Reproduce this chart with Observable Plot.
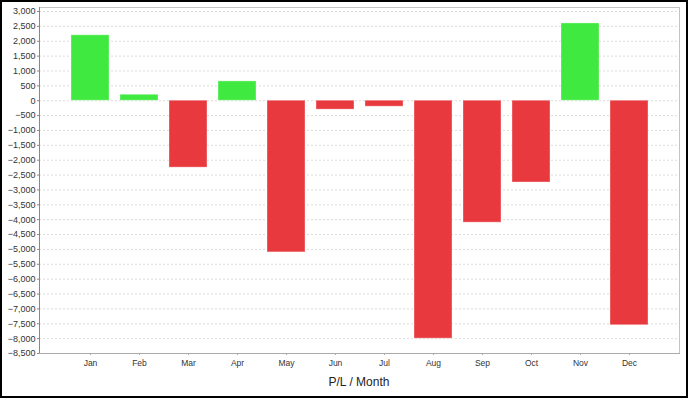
<!DOCTYPE html>
<html>
<head>
<meta charset="utf-8">
<script src="https://cdn.jsdelivr.net/npm/d3@7"></script>
<script src="https://cdn.jsdelivr.net/npm/@observablehq/plot@0.6"></script>
<style>
  html, body { margin: 0; padding: 0; background: white; }
  #wrap { position: relative; width: 688px; height: 398px; background: white; overflow: hidden; }
  #border { position: absolute; left: 0; top: 0; width: 688px; height: 398px; box-sizing: border-box; border: 2px solid #000; pointer-events: none; }
  #caption { position: absolute; left: 39px; top: 375px; width: 640px; text-align: center;
    font-family: "Liberation Sans", Arial, sans-serif; font-size: 12px; color: #222; }
</style>
</head>
<body>
<div id="wrap">
  <div id="chart"></div>
  <div id="caption">P/L / Month</div>
  <div id="border"></div>
</div>
<script>
const months = ["Jan", "Feb", "Mar", "Apr", "May", "Jun", "Jul", "Aug", "Sep", "Oct", "Nov", "Dec"];
const values = [2200, 200, -2250, 650, -5100, -300, -200, -8000, -4100, -2750, 2600, -7550];
const yTicks = d3.range(-8500, 3001, 500);
const posColor = "#3fe93f";
const negColor = "#e8393e";

const data = months.map((m, i) => ({month: m, value: values[i]}));

const chart = Plot.plot({
  width: 688,
  height: 368,
  marginLeft: 39,
  marginRight: 9,
  marginTop: 7,
  marginBottom: 15,
  style: {fontFamily: "'Liberation Sans', Arial, sans-serif", fontSize: "9px", color: "#333", background: "white"},
  x: {domain: months, paddingInner: 0.23, paddingOuter: 0.6, label: null},
  y: {domain: [-8500, 3135], label: null},
  color: {type: "identity"},
  marks: [
    Plot.gridY(yTicks, {stroke: "#dcdcdc", strokeOpacity: 1, strokeDasharray: "2,2"}),
    Plot.frame({stroke: "#c4c4c4"}),
    Plot.barY(data, {
      x: "month",
      y: "value",
      fill: d => d.value >= 0 ? posColor : negColor,
      stroke: "white",
      strokeOpacity: 0.35,
      strokeWidth: 1
    }),
    Plot.axisY(yTicks, {tickFormat: d3.format(","), tickSize: 2, tickPadding: 2, stroke: "#888", label: null}),
    Plot.axisX({tickSize: 2, tickPadding: 4, stroke: "#aaa", label: null, fontSize: 8.5}),
    Plot.frame({anchor: "left", stroke: "#888"}),
    Plot.frame({anchor: "bottom", stroke: "#aaa"})
  ]
});
document.getElementById("chart").appendChild(chart);
</script>
</body>
</html>
